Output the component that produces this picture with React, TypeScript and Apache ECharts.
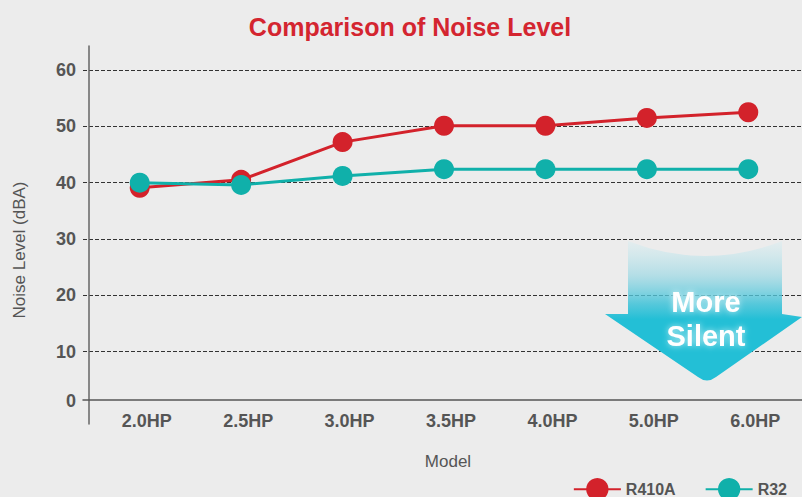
import React, { useEffect, useRef } from "react";
import * as echarts from "echarts";

const categories = ["2.0HP", "2.5HP", "3.0HP", "3.5HP", "4.0HP", "5.0HP", "6.0HP"];
const r410a = [39.1, 40.5, 47.2, 50.1, 50.1, 51.5, 52.5];
const r32 = [40.0, 39.6, 41.2, 42.4, 42.4, 42.4, 42.4];
const yMin = 0;
const yMax = 60;
const yStep = 10;

const FONT = "Liberation Sans, Arial, Helvetica, sans-serif";
const RED = "#d3222b";
const TEAL = "#10b0aa";
const GRAY = "#555555";

const ARROW_D =
  "M628,241 Q705,271 782,241 L782,314 L802,317 L716,377 Q707,384 698,377 L605,314 L628,314 Z";

let registered = false;
function registerArrow() {
  if (registered) return;
  echarts.graphic.registerShape("moreSilentArrow", echarts.graphic.extendPath(ARROW_D, {}) as any);
  registered = true;
}

export default function App() {
  const ref = useRef<HTMLDivElement>(null);
  useEffect(() => {
    if (!ref.current) return;
    registerArrow();
    const chart = echarts.init(ref.current, null, { renderer: "svg" });
    const splitColors = ["rgba(0,0,0,0)", "#333", "#333", "#333", "#333", "#333", "#333"];
    const option: any = {
      animation: false,
      backgroundColor: "#ececec",
      textStyle: { fontFamily: FONT },
      title: {
        text: "Comparison of Noise Level",
        left: 405,
        textAlign: "center",
        top: 9,
        textStyle: { color: "#d42530", fontSize: 25, fontWeight: "bold", fontFamily: FONT },
      },
      legend: {
        data: ["R410A", "R32"],
        right: 10,
        top: 473,
        itemWidth: 47,
        itemHeight: 28,
        itemGap: 29,
        textStyle: { color: GRAY, fontSize: 16, fontWeight: "bold", fontFamily: FONT },
      },
      grid: [
        { left: 89, right: 0, top: 46, bottom: 73 },
        { left: 83, right: 0, top: 70, bottom: 89 },
        { left: 89, right: 3, top: 70, bottom: 89 },
      ],
      xAxis: [
        { gridIndex: 0, type: "category", data: categories, show: false },
        {
          gridIndex: 1,
          type: "category",
          data: categories,
          offset: -8,
          axisLine: { show: true, lineStyle: { color: GRAY, width: 1.5 } },
          axisTick: { show: false },
          axisLabel: { show: false },
          splitLine: { show: false },
        },
        {
          gridIndex: 2,
          type: "category",
          data: categories,
          axisLine: { show: false },
          axisTick: { show: false },
          axisLabel: {
            margin: 4,
            color: GRAY,
            fontSize: 18,
            fontWeight: "bold",
            fontFamily: FONT,
            padding: [0, 0, 0, 14],
          },
          name: "Model",
          nameLocation: "middle",
          nameGap: 45,
          nameTextStyle: { color: GRAY, fontSize: 17, fontFamily: FONT, padding: [0, 0, 0, 8] },
        },
      ],
      yAxis: [
        {
          gridIndex: 0,
          type: "value",
          min: 0,
          max: 1,
          axisLine: { show: true, lineStyle: { color: "#666", width: 1.5 } },
          axisTick: { show: false },
          axisLabel: { show: false },
          splitLine: { show: false },
        },
        {
          gridIndex: 1,
          type: "value",
          min: yMin,
          max: yMax,
          interval: yStep,
          axisLine: { show: false },
          axisTick: { show: false },
          axisLabel: {
            margin: 7,
            color: GRAY,
            fontSize: 18,
            fontWeight: "bold",
            fontFamily: FONT,
            formatter: (v: number) => (v === 0 ? "{z|0}" : "{a|" + v + "}"),
            rich: {
              a: { color: GRAY, fontSize: 18, fontWeight: "bold", fontFamily: FONT },
              z: { color: GRAY, fontSize: 18, fontWeight: "bold", fontFamily: FONT, padding: [0, 0, 14, 0] },
            },
          },
          splitLine: { show: true, lineStyle: { color: splitColors, type: [4, 2], width: 1 } },
          name: "Noise Level (dBA)",
          nameLocation: "middle",
          nameGap: 55,
          nameTextStyle: { color: GRAY, fontSize: 17, fontFamily: FONT, padding: [0, 22, 0, 0] },
        },
        { gridIndex: 2, type: "value", min: yMin, max: yMax, show: false },
      ],
      series: [
        {
          name: "R410A",
          type: "line",
          xAxisIndex: 2,
          yAxisIndex: 2,
          data: r410a,
          symbol: "circle",
          symbolSize: 20,
          lineStyle: { color: RED, width: 3 },
          itemStyle: { color: RED },
        },
        {
          name: "R32",
          type: "line",
          xAxisIndex: 2,
          yAxisIndex: 2,
          data: r32,
          symbol: "circle",
          symbolSize: 20,
          lineStyle: { color: TEAL, width: 3 },
          itemStyle: { color: TEAL },
        },
      ],
      graphic: [
        {
          type: "moreSilentArrow",
          z: 100,
          silent: true,
          style: {
            fill: new echarts.graphic.LinearGradient(0, 0, 0, 1, [
              { offset: 0, color: "rgba(215,238,242,0.4)" },
              { offset: 0.25, color: "rgba(140,212,226,0.6)" },
              { offset: 0.45, color: "rgba(60,194,216,0.85)" },
              { offset: 0.56, color: "#23bfd6" },
              { offset: 1, color: "#23bfd6" },
            ]),
          },
        },
        {
          type: "text",
          z: 101,
          x: 706,
          y: 302,
          silent: true,
          style: {
            text: "More",
            fill: "#ffffff",
            font: "bold 29px " + FONT,
            align: "center",
            verticalAlign: "middle",
            textShadowColor: "rgba(255,255,255,0.7)",
            textShadowBlur: 6,
          },
        },
        {
          type: "text",
          z: 101,
          x: 706,
          y: 336,
          silent: true,
          style: {
            text: "Silent",
            fill: "#ffffff",
            font: "bold 29px " + FONT,
            align: "center",
            verticalAlign: "middle",
            textShadowColor: "rgba(255,255,255,0.7)",
            textShadowBlur: 6,
          },
        },
      ],
    };
    chart.setOption(option);
    return () => chart.dispose();
  }, []);
  return (
    <div
      ref={ref}
      style={{ position: "fixed", left: 0, top: 0, width: 802, height: 497 }}
    />
  );
}
